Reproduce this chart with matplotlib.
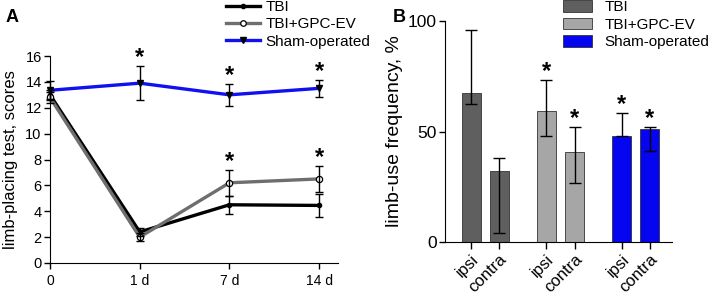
import matplotlib
matplotlib.use("Agg")
import matplotlib.pyplot as plt
import numpy as np
from matplotlib.lines import Line2D
from matplotlib.patches import Patch

plt.rcParams['font.family'] = ['Liberation Sans', 'DejaVu Sans']

# ---- Panel A data ----
timepoints = ["0", "1 d", "7 d", "14 d"]
tbi_mean = [13.0, 2.4, 4.5, 4.45]
tbi_err = [0.4, 0.3, 0.7, 0.9]
gpc_mean = [12.8, 2.0, 6.2, 6.5]
gpc_err = [0.4, 0.3, 1.0, 1.0]
sham_mean = [13.35, 13.9, 13.0, 13.5]
sham_err = [0.7, 1.3, 0.85, 0.65]
starsA = [(1, "sham"), (2, "sham"), (2, "gpc"), (3, "sham"), (3, "gpc")]

# ---- Panel B data ----
b_labels = ["ipsi", "contra", "ipsi", "contra", "ipsi", "contra"]
b_groups = ["TBI", "TBI", "TBI+GPC-EV", "TBI+GPC-EV", "Sham-operated", "Sham-operated"]
b_values = [67.5, 32.3, 59.2, 40.6, 48.1, 51.3]
b_err_low = [5.2, 28.2, 11.2, 14.0, 0.0, 10.1]
b_err_high = [28.3, 5.6, 14.0, 11.3, 10.4, 0.6]
b_star = [False, False, True, True, True, True]

fig = plt.figure(figsize=(7.08, 3.0), dpi=100)


def star(ax, xv, yv):
    ax.annotate("*", xy=(xv, yv), xytext=(0, 1.5), textcoords='offset points',
                ha='center', va='baseline', fontsize=17, fontweight='bold', annotation_clip=False)


# ================= Panel A =================
axA = fig.add_axes([50/708, 1-263/300, 288/708, 207/300])
x = np.arange(len(timepoints))
c_tbi, c_gpc, c_sham = "black", "#6e6e6e", "#1010f0"
axA.plot(x, tbi_mean, color=c_tbi, lw=2.4, marker='o', ms=3, zorder=3, clip_on=False)
axA.plot(x, gpc_mean, color=c_gpc, lw=2.4, marker='o', ms=4.5, mfc='white', mec='black', mew=0.9, zorder=4, clip_on=False)
axA.plot(x, sham_mean, color=c_sham, lw=2.4, marker='v', ms=4, mfc='black', mec='black', zorder=3, clip_on=False)
for m, e in [(tbi_mean, tbi_err), (gpc_mean, gpc_err), (sham_mean, sham_err)]:
    axA.errorbar(x, m, yerr=e, fmt='none', ecolor='black', elinewidth=1, capsize=3, capthick=1, zorder=5, clip_on=False)
for xi, grp in starsA:
    if grp == "sham":
        top = sham_mean[xi] + sham_err[xi]
    else:
        top = gpc_mean[xi] + gpc_err[xi]
    star(axA, xi, top)
axA.set_xlim(0, 3.21)
axA.set_ylim(0, 16)
axA.set_xticks(x)
axA.set_xticklabels(timepoints, fontsize=10)
axA.set_yticks(np.arange(0, 17, 2))
axA.tick_params(axis='y', labelsize=10.5, length=4, width=1, pad=2)
axA.tick_params(axis='x', length=4, width=1, pad=4)
axA.spines['top'].set_visible(False)
axA.spines['right'].set_visible(False)
axA.set_ylabel("limb-placing test, scores", fontsize=12, labelpad=5)
fig.text(6/708, 1-18/300, "A", fontsize=13, fontweight='bold', va='center')

handlesA = [
    Line2D([], [], color=c_tbi, lw=2.4, marker='o', ms=3),
    Line2D([], [], color=c_gpc, lw=2.4, marker='o', ms=4, mfc='white', mec='black', mew=0.9),
    Line2D([], [], color=c_sham, lw=2.4, marker='v', ms=4, mfc='black', mec='black'),
]
legA = fig.legend(handlesA, ["TBI", "TBI+GPC-EV", "Sham-operated"], loc='upper left',
                  bbox_to_anchor=(226/708, 1.0), frameon=False, fontsize=11,
                  handlelength=2.2, handletextpad=0.4, labelspacing=0.22, borderaxespad=0, borderpad=0.0)

# ================= Panel B =================
axB = fig.add_axes([445/708, 1-242/300, 227/708, 221/300])
pos = [0, 1, 2.68, 3.71, 5.39, 6.39]
colmap = {"TBI": "#5f5f5f", "TBI+GPC-EV": "#a6a6a6", "Sham-operated": "#0505f0"}
cols = [colmap[g] for g in b_groups]
axB.bar(pos, b_values, width=0.68, color=cols, edgecolor='#333333', linewidth=0.6, zorder=2)
axB.errorbar(pos, b_values, yerr=[b_err_low, b_err_high], fmt='none', ecolor='black',
             elinewidth=1, capsize=4, capthick=1, zorder=3)
for p, v, eh, s in zip(pos, b_values, b_err_high, b_star):
    if s:
        star(axB, p, v + eh)
axB.set_xlim(-0.93, 7.18)
axB.set_ylim(0, 100)
axB.set_yticks([0, 50, 100])
axB.set_xticks(pos)
axB.set_xticklabels(b_labels, rotation=45, ha='right', rotation_mode='anchor', fontsize=12)
axB.tick_params(axis='y', labelsize=12.5, length=4, width=1, pad=2)
axB.tick_params(axis='x', length=5, width=1, pad=2)
axB.spines['top'].set_visible(False)
axB.spines['right'].set_visible(False)
axB.set_ylabel("limb-use frequency, %", fontsize=14, labelpad=3)
fig.text(393/708, 1-18/300, "B", fontsize=13, fontweight='bold', va='center')

handlesB = [Patch(facecolor=colmap[g], edgecolor='#333333', linewidth=0.6) for g in ["TBI", "TBI+GPC-EV", "Sham-operated"]]
fig.legend(handlesB, ["TBI", "TBI+GPC-EV", "Sham-operated"], loc='upper left',
           bbox_to_anchor=(563/708, 1.0), frameon=False, fontsize=11,
           handlelength=1.9, handleheight=0.8, handletextpad=0.8, labelspacing=0.22,
           borderaxespad=0, borderpad=0.0)

fig.savefig("out.png", dpi=100)
